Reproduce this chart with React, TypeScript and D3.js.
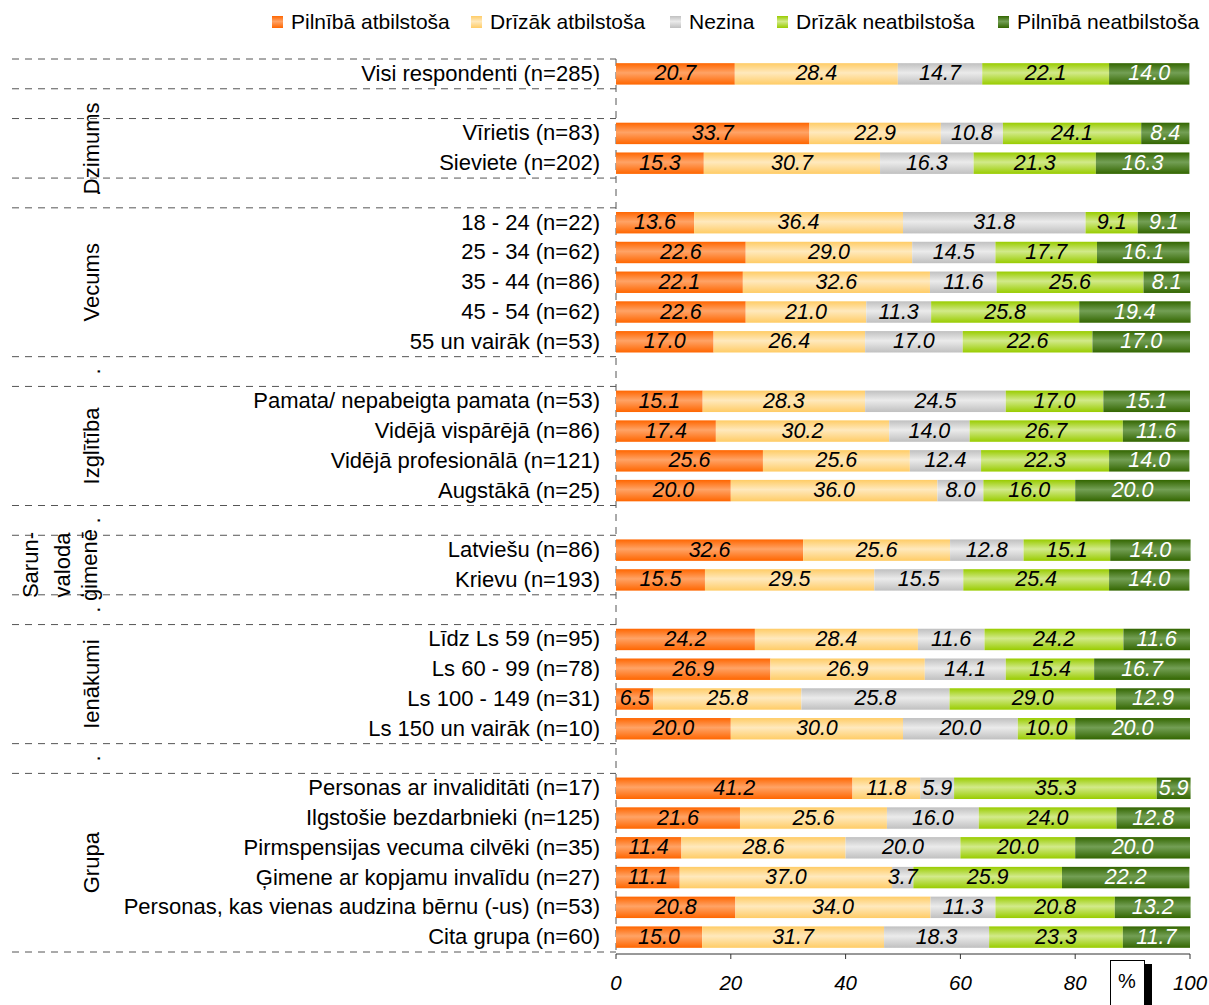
import React from "react";
import * as d3 from "d3";

const seriesNames = [
  "Pilnībā atbilstoša",
  "Drīzāk atbilstoša",
  "Nezina",
  "Drīzāk neatbilstoša",
  "Pilnībā neatbilstoša",
];

const categories = [
  "Visi respondenti (n=285)",
  "",
  "Vīrietis (n=83)",
  "Sieviete (n=202)",
  "",
  "18 - 24 (n=22)",
  "25 - 34 (n=62)",
  "35 - 44 (n=86)",
  "45 - 54 (n=62)",
  "55 un vairāk (n=53)",
  "",
  "Pamata/ nepabeigta pamata (n=53)",
  "Vidējā vispārējā (n=86)",
  "Vidējā profesionālā (n=121)",
  "Augstākā (n=25)",
  "",
  "Latviešu (n=86)",
  "Krievu (n=193)",
  "",
  "Līdz Ls 59 (n=95)",
  "Ls 60 - 99 (n=78)",
  "Ls 100 - 149 (n=31)",
  "Ls 150 un vairāk (n=10)",
  "",
  "Personas ar invaliditāti (n=17)",
  "Ilgstošie bezdarbnieki (n=125)",
  "Pirmspensijas vecuma cilvēki (n=35)",
  "Ģimene ar kopjamu invalīdu (n=27)",
  "Personas, kas vienas audzina bērnu (-us) (n=53)",
  "Cita grupa (n=60)",
];

const pilnibaAtbilstosa = [20.7, null, 33.7, 15.3, null, 13.6, 22.6, 22.1, 22.6, 17.0, null, 15.1, 17.4, 25.6, 20.0, null, 32.6, 15.5, null, 24.2, 26.9, 6.5, 20.0, null, 41.2, 21.6, 11.4, 11.1, 20.8, 15.0];
const drizakAtbilstosa = [28.4, null, 22.9, 30.7, null, 36.4, 29.0, 32.6, 21.0, 26.4, null, 28.3, 30.2, 25.6, 36.0, null, 25.6, 29.5, null, 28.4, 26.9, 25.8, 30.0, null, 11.8, 25.6, 28.6, 37.0, 34.0, 31.7];
const nezina = [14.7, null, 10.8, 16.3, null, 31.8, 14.5, 11.6, 11.3, 17.0, null, 24.5, 14.0, 12.4, 8.0, null, 12.8, 15.5, null, 11.6, 14.1, 25.8, 20.0, null, 5.9, 16.0, 20.0, 3.7, 11.3, 18.3];
const drizakNeatbilstosa = [22.1, null, 24.1, 21.3, null, 9.1, 17.7, 25.6, 25.8, 22.6, null, 17.0, 26.7, 22.3, 16.0, null, 15.1, 25.4, null, 24.2, 15.4, 29.0, 10.0, null, 35.3, 24.0, 20.0, 25.9, 20.8, 23.3];
const pilnibaNeatbilstosa = [14.0, null, 8.4, 16.3, null, 9.1, 16.1, 8.1, 19.4, 17.0, null, 15.1, 11.6, 14.0, 20.0, null, 14.0, 14.0, null, 11.6, 16.7, 12.9, 20.0, null, 5.9, 12.8, 20.0, 22.2, 13.2, 11.7];

const xTicks = [0, 20, 40, 60, 80, 100];

const groupLabels = [
  { lines: ["Dzimums"], from: 2, to: 3 },
  { lines: ["Vecums"], from: 5, to: 9 },
  { lines: ["Izglītība"], from: 11, to: 14 },
  { lines: ["Sarun-", "valoda", "ģimenē"], from: 16, to: 17 },
  { lines: ["Ienākumi"], from: 19, to: 22 },
  { lines: ["Grupa"], from: 24, to: 29 },
];
const dotRows = [4, 10, 15, 18, 23];

// styles
const colorsEdge = ["#FF6600", "#FFCC66", "#C0C0C0", "#99CC00", "#336600"];
const colorsMid = ["#FFA366", "#FFE9BD", "#EBEBEB", "#D2EA8A", "#739F55"];
const labelColors = ["#000", "#000", "#000", "#000", "#fff"];
const legendX = [272, 471, 670, 777, 998];

const FONT = "'Liberation Sans', Arial, sans-serif";

export default function App() {
  const W = 1209;
  const H = 1005;
  const x = d3.scaleLinear().domain([0, 100]).range([616, 1190]);
  const y = d3
    .scaleBand<number>()
    .domain(d3.range(categories.length))
    .range([59, 952])
    .paddingInner(0.28)
    .paddingOuter(0.14);
  const step = y.step();
  const bw = y.bandwidth();
  const top = 59;
  const series = [pilnibaAtbilstosa, drizakAtbilstosa, nezina, drizakNeatbilstosa, pilnibaNeatbilstosa];

  const boundaries: number[] = [0, categories.length];
  categories.forEach((c, i) => {
    if (c === "") {
      boundaries.push(i, i + 1);
    }
  });

  const rowsData = categories.map((c, i) => {
    if (c === "") return null;
    let acc = 0;
    return series.map((s, k) => {
      const v = s[i] as number;
      const seg = { k, v, x0: acc, x1: acc + v };
      acc += v;
      return seg;
    });
  });

  return (
    <svg
      width={W}
      height={H}
      style={{ position: "absolute", left: 0, top: 0, background: "#fff" }}
      fontFamily={FONT}
    >
      <defs>
        {colorsEdge.map((c, k) => (
          <linearGradient key={k} id={`g${k}`} x1="0" y1="0" x2="0" y2="1">
            <stop offset="0%" stopColor={c} />
            <stop offset="45%" stopColor={colorsMid[k]} />
            <stop offset="100%" stopColor={c} />
          </linearGradient>
        ))}
      </defs>

      {/* legend */}
      {seriesNames.map((n, k) => (
        <g key={n}>
          <rect x={legendX[k]} y={16} width={11} height={12} fill={`url(#g${k})`} />
          <text x={legendX[k] + 19} y={29} fontSize={21} fill="#000">
            {n}
          </text>
        </g>
      ))}

      {/* horizontal dashed separators */}
      {boundaries.map((b, i) => (
        <line
          key={i}
          x1={12}
          x2={616}
          y1={top + b * step}
          y2={top + b * step}
          stroke="#555"
          strokeWidth={1}
          strokeDasharray="7,6"
        />
      ))}

      {/* vertical category axis dashed */}
      <line x1={616} x2={616} y1={top} y2={952} stroke="#555" strokeDasharray="7,6" />

      {/* bars */}
      {rowsData.map((row, i) =>
        row
          ? row.map((seg) => (
              <rect
                key={`${i}-${seg.k}`}
                x={x(seg.x0)}
                y={y(i)!}
                width={x(seg.x1) - x(seg.x0)}
                height={bw}
                fill={`url(#g${seg.k})`}
              />
            ))
          : null
      )}

      {/* value labels */}
      {rowsData.map((row, i) =>
        row
          ? row.map((seg) => (
              <text
                key={`t${i}-${seg.k}`}
                x={(x(seg.x0) + x(seg.x1)) / 2}
                y={y(i)! + bw / 2 + 6.5}
                textAnchor="middle"
                fontSize={21.5}
                fontStyle="italic"
                fill={labelColors[seg.k]}
              >
                {seg.v.toFixed(1)}
              </text>
            ))
          : null
      )}

      {/* category labels */}
      {categories.map((c, i) =>
        c ? (
          <text
            key={i}
            x={600}
            y={y(i)! + bw / 2 + 7}
            textAnchor="end"
            fontSize={22}
            fill="#000"
          >
            {c}
          </text>
        ) : null
      )}

      {/* group labels */}
      {groupLabels.map((g, gi) => {
        const yc = (y(g.from)! + y(g.to)! + bw) / 2;
        const n = g.lines.length;
        const xs = n === 1 ? [99] : [38, 70, 97];
        return g.lines.map((l, li) => (
          <text
            key={`${gi}-${li}`}
            transform={`translate(${xs[li]},${yc}) rotate(-90)`}
            textAnchor="middle"
            fontSize={22}
            fill="#000"
          >
            {l}
          </text>
        ));
      })}
      {dotRows.map((r) => (
        <text
          key={r}
          transform={`translate(100,${y(r)! + bw / 2}) rotate(-90)`}
          textAnchor="middle"
          fontSize={22}
          fill="#000"
        >
          .
        </text>
      ))}

      {/* x axis */}
      <line x1={616} x2={1190} y1={954} y2={954} stroke="#333" />
      {xTicks.map((t) => (
        <g key={t}>
          <line x1={x(t)} x2={x(t)} y1={954} y2={959} stroke="#333" />
          <text
            x={x(t)}
            y={990}
            textAnchor="middle"
            fontSize={20.5}
            fontStyle="italic"
            fill="#000"
          >
            {t}
          </text>
        </g>
      ))}

      {/* % box */}
      <rect x={1145} y={964} width={7} height={45} fill="#000" />
      <rect x={1110.5} y={960.5} width={34} height={50} fill="#fff" stroke="#000" />
      <text x={1127} y={988} textAnchor="middle" fontSize={20} fill="#000">
        %
      </text>
    </svg>
  );
}
